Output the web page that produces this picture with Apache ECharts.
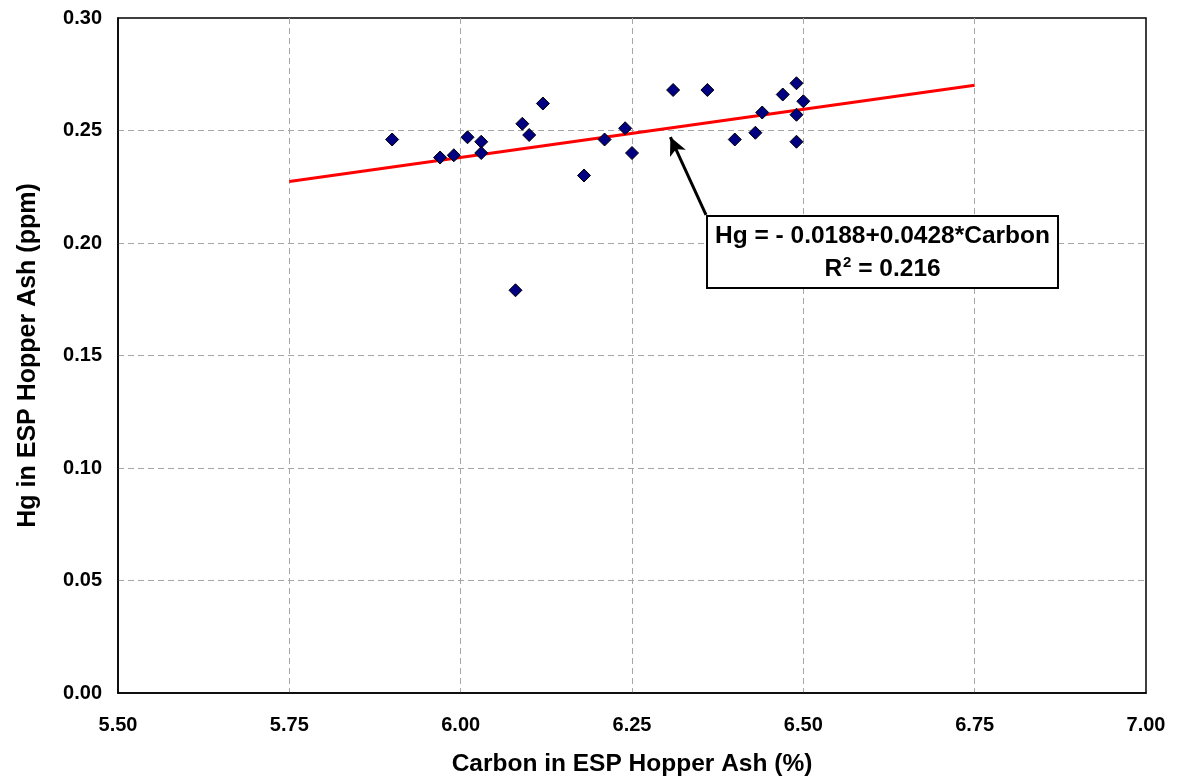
<!DOCTYPE html>
<html>
<head>
<meta charset="utf-8">
<script src="https://cdn.jsdelivr.net/npm/echarts@6/dist/echarts.min.js"></script>
<style>
html,body{margin:0;padding:0;background:#fff;}
#chart{width:1180px;height:784px;}
</style>
</head>
<body>
<div id="chart"></div>
<script>
// Data
const carbon = [5.90, 5.97, 5.99, 6.01, 6.03, 6.03, 6.09, 6.10, 6.12, 6.08, 6.18, 6.21, 6.24, 6.25, 6.31, 6.36, 6.40, 6.43, 6.44, 6.47, 6.49, 6.50, 6.49, 6.49];
const mercury = [0.246, 0.238, 0.239, 0.247, 0.245, 0.240, 0.253, 0.248, 0.262, 0.179, 0.230, 0.246, 0.251, 0.240, 0.268, 0.268, 0.246, 0.249, 0.258, 0.266, 0.271, 0.263, 0.257, 0.245];
const trendX = [5.75, 6.75];
const trendY = [0.2273, 0.2701];
const xTicks = ['5.50','5.75','6.00','6.25','6.50','6.75','7.00'];
const yTicks = ['0.00','0.05','0.10','0.15','0.20','0.25','0.30'];
const equationText = 'Hg = - 0.0188+0.0428*Carbon';
const r2Text = '0.216';
const arrowFrom = [6.358, 0.2125];
const arrowTo = [6.306, 0.2471];
const boxCorner = [6.358, 0.2125];

const FONT = '"Liberation Sans", Arial, sans-serif';
const chart = echarts.init(document.getElementById('chart'));

const points = carbon.map((c, i) => [c, mercury[i]]);
const trend = trendX.map((x, i) => [x, trendY[i]]);

const splitStyle = { show: true, showMinLine: false, showMaxLine: false, lineStyle: { color: '#a6a6a6', type: [6, 4], width: 1 } };

chart.setOption({
  animation: false,
  backgroundColor: '#fff',
  grid: { left: 118, right: 34, top: 18, bottom: 91, show: true, borderColor: '#000', borderWidth: 1.5, backgroundColor: 'transparent' },
  xAxis: {
    type: 'value', min: 5.5, max: 7.0, interval: 0.25,
    name: 'Carbon in ESP Hopper Ash (%)', nameLocation: 'middle', nameGap: 59,
    nameTextStyle: { fontFamily: FONT, fontWeight: 'bold', fontSize: 24.5, color: '#000' },
    axisLine: { show: true, lineStyle: { color: '#000', width: 1.5 } },
    axisTick: { show: false },
    axisLabel: { margin: 22, fontFamily: FONT, fontWeight: 'bold', fontSize: 20, color: '#000',
      formatter: v => xTicks[Math.round((v - 5.5) / 0.25)] },
    splitLine: splitStyle
  },
  yAxis: {
    type: 'value', min: 0, max: 0.3, interval: 0.05,
    name: 'Hg in ESP Hopper Ash (ppm)', nameLocation: 'middle', nameGap: 77,
    nameTextStyle: { fontFamily: FONT, fontWeight: 'bold', fontSize: 25, color: '#000' },
    axisLine: { show: true, lineStyle: { color: '#000', width: 1.5 } },
    axisTick: { show: false },
    axisLabel: { margin: 16, fontFamily: FONT, fontWeight: 'bold', fontSize: 20, color: '#000',
      formatter: v => yTicks[Math.round(v / 0.05)] },
    splitLine: splitStyle
  },
  series: [
    {
      type: 'line', data: trend, symbol: 'none', z: 2,
      lineStyle: { color: '#ff0000', width: 3 }
    },
    {
      type: 'scatter', data: points, symbol: 'diamond', symbolSize: 13, z: 3,
      itemStyle: { color: '#000080', borderColor: '#000', borderWidth: 1, opacity: 1 },
      markLine: {
        silent: true, animation: false,
        symbol: ['none', 'arrow'], symbolSize: [13, 18],
        label: { show: false },
        lineStyle: { color: '#000', width: 3, type: 'solid' },
        data: [[{ coord: arrowFrom }, { coord: arrowTo }]]
      }
    }
  ]
});

const p = chart.convertToPixel({ gridIndex: 0 }, boxCorner);
const boxW = 351, boxH = 72;
chart.setOption({
  graphic: [{
    type: 'group', left: p[0], top: p[1], z: 100,
    children: [
      { type: 'rect', shape: { x: 0, y: 0, width: boxW, height: boxH },
        style: { fill: '#fff', stroke: '#000', lineWidth: 2 } },
      { type: 'text', x: boxW / 2, y: 20,
        style: { text: equationText, fill: '#000', font: 'bold 24.5px ' + FONT, align: 'center', verticalAlign: 'middle' } },
      { type: 'text', x: boxW / 2, y: 53,
        style: { text: '{a|R}{s|2}{a| = ' + r2Text + '}', align: 'center', verticalAlign: 'middle',
          rich: {
            a: { fill: '#000', fontFamily: FONT, fontWeight: 'bold', fontSize: 24.5 },
            s: { fill: '#000', fontFamily: FONT, fontWeight: 'bold', fontSize: 15, verticalAlign: 'top', padding: [0, 0, 12, 1] }
          } } }
    ]
  }]
});
</script>
</body>
</html>
